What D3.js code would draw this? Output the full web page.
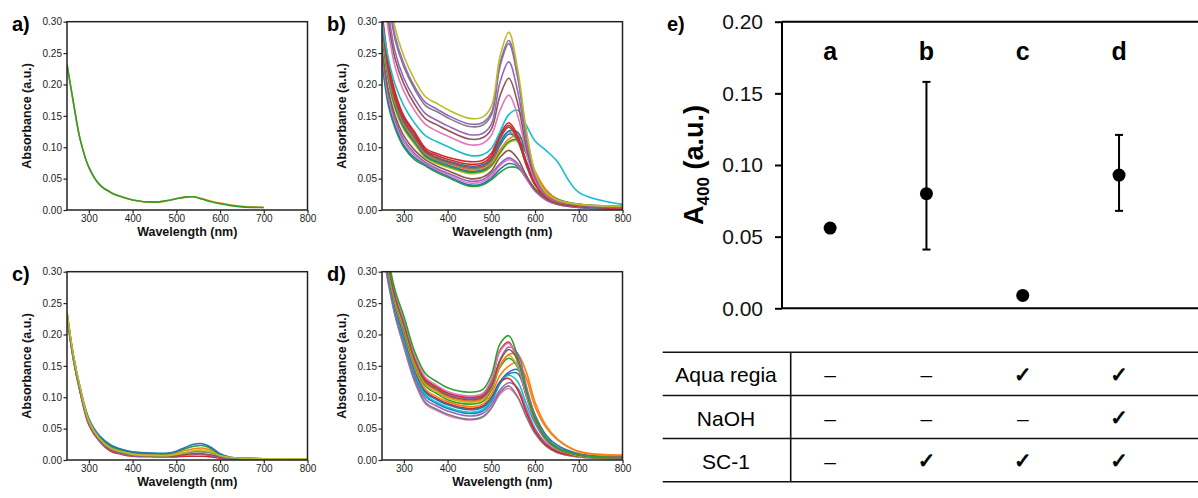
<!DOCTYPE html>
<html lang="en">
<head>
<meta charset="utf-8">
<title>UV-vis spectra and A400</title>
<script src="https://cdn.jsdelivr.net/npm/d3@7"></script>
<style>
  body { margin: 0; background: #fff; }
  svg { display: block; font-family: "Liberation Sans", Arial, sans-serif; }
  .spec .tick text { font-size: 10px; fill: #222; }
  .spec .tick line { stroke: #222; stroke-width: 1.2; }
  .axtitle { font-size: 12.5px; font-weight: bold; fill: #111; }
  .plabel { font-size: 20px; font-weight: bold; fill: #000; }
  .eaxis .tick text { font-size: 21px; fill: #111; }
  .eaxis .tick line { stroke: #000; stroke-width: 2; }
</style>
</head>
<body>
<div id="chart"></div>
<script>
// wavelength grid (nm) shared by all spectra
const wl = [250,265,280,300,325,350,375,400,450,480,500,520,540,560,580,600,625,650,700,800];

// a) – two nearly identical spectra, measured only up to 700 nm
const specA = [
  [.232,.170,.113,.068,.040,.028,.021,.016,.0125,.015,.018,.0205,.021,.018,.014,.011,.008,.006,.004,null],
  [.232,.170,.113,.068,.040,.028,.021,.016,.0125,.015,.018,.0205,.021,.017,.013,.010,.007,.005,.004,null]
];
const colA = ["orange","green"];

// b)
const specB = [
  [.235,.165,.130,.100,.080,.070,.060,.052,.038,.040,.048,.060,.068,.067,.052,.034,.019,.011,.005,.002],
  [.240,.170,.134,.103,.083,.072,.062,.054,.040,.042,.051,.065,.074,.070,.050,.031,.016,.009,.004,.002],
  [.250,.178,.140,.108,.087,.074,.064,.056,.043,.045,.054,.071,.080,.072,.050,.030,.016,.009,.004,.002],
  [.255,.183,.144,.112,.090,.076,.066,.059,.046,.048,.058,.074,.083,.074,.052,.031,.017,.009,.004,.002],
  [.260,.190,.150,.118,.095,.080,.070,.063,.050,.052,.062,.084,.095,.082,.055,.033,.018,.010,.005,.003],
  [.275,.203,.160,.128,.104,.083,.074,.068,.058,.060,.069,.090,.107,.110,.090,.058,.030,.017,.008,.005],
  [.280,.207,.164,.131,.107,.085,.076,.070,.060,.062,.071,.092,.109,.112,.092,.060,.032,.018,.009,.005],
  [.285,.210,.167,.134,.109,.087,.078,.072,.062,.064,.075,.103,.121,.113,.078,.044,.022,.012,.005,.003],
  [.290,.214,.170,.137,.112,.089,.080,.074,.064,.066,.075,.096,.113,.118,.098,.062,.032,.017,.008,.004],
  [.295,.218,.173,.139,.114,.090,.081,.075,.066,.068,.078,.108,.125,.110,.072,.040,.020,.011,.005,.003],
  [.300,.225,.178,.143,.117,.093,.084,.078,.070,.072,.082,.108,.126,.124,.090,.052,.026,.014,.006,.003],
  [.300,.222,.176,.141,.116,.092,.083,.077,.068,.070,.081,.114,.132,.112,.071,.040,.021,.012,.006,.003],
  [.308,.228,.182,.147,.121,.095,.087,.081,.073,.075,.086,.118,.135,.116,.074,.041,.021,.012,.006,.003],
  [.316,.235,.188,.150,.124,.098,.090,.084,.077,.079,.090,.121,.139,.119,.076,.042,.021,.012,.006,.003],
  [.300,.240,.200,.166,.138,.118,.109,.101,.087,.088,.098,.125,.152,.159,.135,.110,.095,.078,.028,.009],
  [.372,.284,.228,.189,.158,.136,.126,.118,.104,.106,.119,.159,.183,.151,.092,.047,.023,.013,.007,.004],
  [.391,.300,.241,.201,.168,.145,.136,.127,.113,.115,.129,.182,.210,.171,.101,.051,.024,.014,.007,.005],
  [.406,.313,.252,.210,.177,.153,.143,.134,.120,.122,.137,.204,.236,.190,.111,.054,.025,.015,.008,.005],
  [.433,.337,.271,.228,.192,.166,.157,.147,.133,.135,.151,.229,.265,.212,.121,.058,.026,.016,.009,.006],
  [.441,.344,.277,.233,.196,.171,.161,.151,.137,.139,.155,.234,.270,.215,.123,.058,.026,.016,.009,.006],
  [.460,.360,.290,.245,.207,.180,.170,.160,.146,.148,.165,.245,.283,.225,.128,.060,.027,.016,.009,.006]
];
const colB = ["green","blue","pink","purple","brown","olive","green","blue","orange","gray",
              "blue","brown","red","red","cyan","pink","brown","purple","gray","purple","olive"];

// c)
const specC = [
  [.228,.158,.108,.056,.029,.014,.009,.006,.005,.005,.005,.006,.006,.006,.005,.003,.002,.002,.001,.001],
  [.230,.160,.110,.058,.030,.016,.010,.007,.006,.006,.007,.008,.009,.009,.007,.004,.002,.002,.001,.001],
  [.230,.160,.110,.059,.031,.017,.011,.008,.006,.006,.007,.009,.010,.010,.008,.005,.003,.002,.002,.001],
  [.232,.162,.112,.060,.032,.018,.012,.009,.007,.007,.009,.011,.013,.013,.011,.006,.003,.002,.002,.001],
  [.233,.163,.113,.062,.034,.020,.014,.010,.008,.008,.011,.015,.018,.019,.015,.008,.004,.003,.002,.002],
  [.235,.165,.115,.064,.036,.022,.016,.012,.010,.010,.013,.018,.022,.023,.018,.009,.004,.003,.002,.002],
  [.235,.165,.115,.066,.038,.024,.017,.013,.011,.011,.014,.020,.025,.026,.020,.010,.004,.003,.002,.002],
  [.237,.166,.116,.063,.034,.019,.013,.009,.007,.007,.009,.012,.015,.016,.013,.007,.004,.003,.002,.002]
];
const colC = ["red","purple","brown","gray","orange","green","blue","olive"];

// d)
const specD = [
  [.340,.279,.229,.180,.124,.089,.079,.071,.064,.068,.082,.105,.114,.100,.070,.044,.023,.012,.005,.002],
  [.342,.281,.231,.182,.126,.091,.081,.073,.065,.069,.083,.108,.118,.101,.069,.042,.022,.012,.005,.002],
  [.348,.286,.236,.188,.131,.096,.086,.078,.070,.074,.088,.112,.123,.115,.082,.050,.027,.015,.006,.003],
  [.354,.289,.239,.192,.136,.101,.090,.082,.074,.078,.093,.122,.137,.138,.104,.066,.036,.021,.009,.004],
  [.356,.291,.241,.194,.138,.103,.092,.084,.076,.080,.096,.124,.135,.125,.090,.058,.032,.019,.008,.004],
  [.365,.296,.246,.201,.144,.109,.098,.090,.082,.086,.100,.124,.130,.112,.076,.046,.024,.013,.006,.003],
  [.362,.295,.245,.198,.142,.107,.096,.088,.080,.084,.098,.125,.140,.144,.112,.072,.040,.024,.010,.005],
  [.369,.299,.249,.204,.147,.112,.101,.093,.085,.089,.105,.135,.150,.155,.130,.085,.052,.033,.014,.008],
  [.374,.303,.253,.208,.152,.117,.106,.096,.089,.093,.111,.148,.162,.148,.102,.062,.032,.018,.007,.003],
  [.378,.305,.255,.212,.155,.120,.109,.099,.092,.096,.114,.152,.167,.150,.105,.064,.033,.018,.007,.004],
  [.381,.307,.257,.214,.157,.122,.111,.101,.094,.098,.115,.150,.168,.168,.140,.092,.055,.034,.013,.007],
  [.386,.311,.261,.218,.161,.126,.115,.105,.098,.102,.120,.160,.180,.170,.118,.070,.036,.020,.008,.004],
  [.389,.313,.263,.220,.163,.128,.117,.107,.100,.104,.125,.175,.188,.157,.103,.063,.033,.019,.008,.004],
  [.392,.315,.265,.222,.166,.131,.119,.109,.102,.106,.128,.173,.186,.156,.104,.064,.033,.019,.008,.004],
  [.384,.309,.259,.216,.159,.124,.113,.103,.096,.100,.117,.158,.176,.160,.110,.066,.034,.019,.008,.004],
  [.400,.320,.270,.229,.172,.137,.125,.115,.108,.112,.135,.185,.198,.165,.110,.068,.035,.020,.008,.004]
];
const colD = ["pink","gray","purple","blue","cyan","red","blue","orange","green","olive",
              "orange","purple","red","pink","brown","green"];

const specTicksX = [300,400,500,600,700,800];
const specTicksY = [0,0.05,0.10,0.15,0.20,0.25,0.30];

// e) A400 per treatment
const samples = ["a","b","c","d"];
const a400 = [0.056, 0.080, 0.009, 0.093];
const a400Low = [null, 0.041, null, 0.068];
const a400High = [null, 0.158, null, 0.121];
const eTicks = [0,0.05,0.10,0.15,0.20];

const treatments = ["Aqua regia","NaOH","SC-1"];
const treatMarks = [
  ["–","–","✓","✓"],
  ["–","–","–","✓"],
  ["–","✓","✓","✓"]
];

const palette = {blue:"#1f77b4", orange:"#ff7f0e", green:"#2ca02c", red:"#d62728", purple:"#9467bd",
                 brown:"#8c564b", pink:"#e377c2", gray:"#7f7f7f", olive:"#bcbd22", cyan:"#17becf"};

const W = 1198, H = 498;
const svg = d3.select("#chart").append("svg").attr("width", W).attr("height", H);
const defs = svg.append("defs");

function drawSpectra(id, left, top, series, colors, label) {
  const pw = 240.5, ph = 188.3;
  const x = d3.scaleLinear().domain([250, 800]).range([left, left + pw]);
  const y = d3.scaleLinear().domain([0, 0.30]).range([top + ph, top]);
  const g = svg.append("g").attr("class", "spec");

  defs.append("clipPath").attr("id", "clip" + id)
    .append("rect").attr("x", left).attr("y", top).attr("width", pw).attr("height", ph);

  const line = d3.line()
    .defined(d => d[1] != null)
    .x(d => x(d[0]))
    .y(d => y(d[1]))
    .curve(d3.curveCatmullRom.alpha(0.5));

  g.append("g").attr("clip-path", "url(#clip" + id + ")")
    .selectAll("path")
    .data(series)
    .enter()
    .append("path")
    .attr("d", s => line(s.map((v, i) => [wl[i], v])))
    .attr("fill", "none")
    .attr("stroke", (s, i) => palette[colors[i]])
    .attr("stroke-width", 1.6)
    .attr("stroke-linejoin", "round");

  g.append("g")
    .attr("transform", "translate(0," + (top + ph) + ")")
    .call(d3.axisBottom(x).tickValues(specTicksX).tickSize(3.5).tickPadding(1.5))
    .call(a => a.select(".domain").remove());
  g.append("g")
    .attr("transform", "translate(" + left + ",0)")
    .call(d3.axisLeft(y).tickValues(specTicksY).tickFormat(d3.format(".2f")).tickSize(3.5).tickPadding(1.5))
    .call(a => a.select(".domain").remove());
  g.selectAll(".tick text").attr("font-family", null);

  // frame
  g.append("rect")
    .attr("x", left).attr("y", top).attr("width", pw).attr("height", ph)
    .attr("fill", "none").attr("stroke", "#222").attr("stroke-width", 1.5);

  g.append("text").attr("class", "axtitle")
    .attr("x", left + pw / 2).attr("y", top + ph + 26)
    .attr("text-anchor", "middle")
    .text("Wavelength (nm)");
  g.append("text").attr("class", "axtitle")
    .attr("transform", "translate(" + (left - 36) + "," + (top + ph / 2) + ") rotate(-90)")
    .attr("text-anchor", "middle")
    .text("Absorbance (a.u.)");
  g.append("text").attr("class", "plabel")
    .attr("x", left - 55).attr("y", top + 9)
    .text(label);
}

drawSpectra("a", 67, 21.7, specA, colA, "a)");
drawSpectra("b", 382, 21.7, specB, colB, "b)");
drawSpectra("c", 67, 271.7, specC, colC, "c)");
drawSpectra("d", 382, 271.7, specD, colD, "d)");

// panel e
const xE = d3.scaleBand().domain(samples).range([782, 1167.2]);
const yE = d3.scaleLinear().domain([0, 0.20]).range([308.3, 21.7]);
const ge = svg.append("g").attr("class", "eaxis");

ge.append("g")
  .attr("transform", "translate(782,0)")
  .call(d3.axisLeft(yE).tickValues(eTicks).tickFormat(d3.format(".2f")).tickSize(7).tickPadding(12))
  .call(a => a.select(".domain").remove());
ge.selectAll(".tick text").attr("font-family", null);

ge.append("line").attr("x1", 782).attr("x2", 782).attr("y1", yE(0.20)).attr("y2", yE(0))
  .attr("stroke", "#000").attr("stroke-width", 2);
ge.append("line").attr("x1", 782).attr("x2", W).attr("y1", yE(0.20)).attr("y2", yE(0.20))
  .attr("stroke", "#000").attr("stroke-width", 2);
ge.append("line").attr("x1", 782).attr("x2", W).attr("y1", yE(0)).attr("y2", yE(0))
  .attr("stroke", "#000").attr("stroke-width", 2);

const cx = s => xE(s) + xE.bandwidth() / 2;

ge.selectAll(".letter")
  .data(samples)
  .enter()
  .append("text")
  .attr("x", d => cx(d))
  .attr("y", 60)
  .attr("text-anchor", "middle")
  .style("font-size", "25px")
  .style("font-weight", "bold")
  .text(d => d);

// error bars
samples.forEach((s, i) => {
  if (a400Low[i] == null) return;
  const x0 = cx(s);
  ge.append("line").attr("x1", x0).attr("x2", x0)
    .attr("y1", yE(a400Low[i])).attr("y2", yE(a400High[i]))
    .attr("stroke", "#000").attr("stroke-width", 2);
  [a400Low[i], a400High[i]].forEach(v => {
    ge.append("line").attr("x1", x0 - 4).attr("x2", x0 + 4)
      .attr("y1", yE(v)).attr("y2", yE(v))
      .attr("stroke", "#000").attr("stroke-width", 2);
  });
});

ge.selectAll(".dot")
  .data(a400)
  .enter()
  .append("circle")
  .attr("cx", (d, i) => cx(samples[i]))
  .attr("cy", d => yE(d))
  .attr("r", 6.5)
  .attr("fill", "#000");

ge.append("text")
  .attr("transform", "translate(703,165) rotate(-90)")
  .attr("text-anchor", "middle")
  .style("font-size", "27px")
  .style("font-weight", "bold")
  .html('A<tspan dy="6" font-size="17px">400</tspan><tspan dy="-6"> (a.u.)</tspan>');

ge.append("text")
  .attr("x", 667).attr("y", 31)
  .style("font-size", "20px")
  .style("font-weight", "bold")
  .text("e)");

// treatment table
const yT = d3.scaleBand().domain(treatments).range([352.3, 481.7]);
const gt = svg.append("g");
[352.3, 481.7].concat(treatments.slice(1).map(t => yT(t))).forEach(yy => {
  gt.append("line").attr("x1", 662.7).attr("x2", W).attr("y1", yy).attr("y2", yy)
    .attr("stroke", "#111").attr("stroke-width", 1.6);
});
gt.append("line").attr("x1", 790.7).attr("x2", 790.7).attr("y1", 352.3).attr("y2", 481.7)
  .attr("stroke", "#111").attr("stroke-width", 1.6);

treatments.forEach((t, r) => {
  const yc = yT(t) + yT.bandwidth() / 2 + 1;
  gt.append("text")
    .attr("x", 726).attr("y", yc)
    .attr("text-anchor", "middle").attr("dominant-baseline", "central")
    .style("font-size", "21px")
    .text(t);
  treatMarks[r].forEach((m, c) => {
    const isCheck = m === "✓";
    gt.append("text")
      .attr("x", cx(samples[c])).attr("y", yc)
      .attr("text-anchor", "middle").attr("dominant-baseline", "central")
      .style("font-size", "21px")
      .style("font-family", isCheck ? "'DejaVu Sans'" : null)
      .attr("stroke", isCheck ? "#000" : null)
      .attr("stroke-width", isCheck ? 0.9 : null)
      .text(m);
  });
});
</script>
</body>
</html>
